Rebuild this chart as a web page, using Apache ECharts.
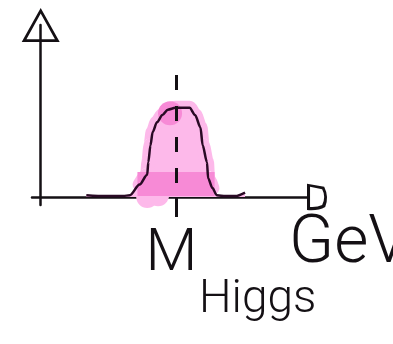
<!DOCTYPE html>
<html>
<head>
<meta charset="utf-8">
<script src="https://cdn.jsdelivr.net/npm/echarts@6/dist/echarts.min.js"></script>
<style>
  html, body { margin: 0; padding: 0; background: #fff; }
  #chart { width: 393px; height: 344px; }
</style>
</head>
<body>
<div id="chart"></div>
<script>
// mass axis (arbitrary GeV units) and normalised event counts
const massGeV = [42, 60, 76, 82, 91, 98, 99, 101, 103, 107, 112, 117, 124, 131, 137, 142, 147, 149, 153, 154, 158, 162, 170, 179, 188]
const counts  = [0.02, 0.01, 0.01, 0.02, 0.14, 0.25, 0.39, 0.58, 0.73, 0.84, 0.92, 0.98, 1.0, 1.0, 1.0, 0.92, 0.78, 0.58, 0.39, 0.21, 0.10, 0.02, 0.01, 0.01, 0.05]
const higgsMass = 125
const peakTop = 1.37          // top of the dashed mass marker
const bandX = [89, 160]       // darker highlighter band under the peak
const bandY = [0.01, 0.28]
const darkBlobs  = [[119, 0.94]]
const lightBlobs = [[98, 0.0], [108, 0.02]]

const curve = massGeV.map((x, i) => [x, counts[i]])
const halo = curve.filter(p => p[0] >= 90 && p[0] <= 160)

const ink = '#141014'
const pinkLight = '#fdb9ea'
const pinkDark = '#f78ad6'
const font = 'Roboto, "DejaVu Sans", sans-serif'

// hollow arrow heads, inner ring wound the other way so it is cut out
const triArrow = 'path://M0,0 L20,36 L-20,36 Z M0,6 L-15,33 L15,33 Z'
const dArrow = 'path://M-13,20 L-10,3 Q0,-2 10,2 Q14,9 13,20 Z M-10,17 L10,17 Q10.5,10 8,5 Q0,1 -7.5,5 Z'

const chart = echarts.init(document.getElementById('chart'), null, { renderer: 'canvas' })

chart.setOption({
  animation: false,
  backgroundColor: '#fff',
  title: {
    text: 'Higgs',
    left: 194,
    top: 272,
    textStyle: { fontFamily: font, fontWeight: 300, fontSize: 46, color: ink },
  },
  grid: { left: 32, right: 86, top: 25, bottom: 139, outerBoundsMode: 'none', containLabel: false },
  xAxis: {
    type: 'value',
    min: -8,
    max: 245,
    name: 'GeV',
    nameLocation: 'end',
    nameGap: -18,
    nameTextStyle: {
      fontFamily: font, fontWeight: 300, fontSize: 66, color: ink,
      verticalAlign: 'top', align: 'left', padding: [16, 0, 0, 0],
    },
    axisLine: {
      onZero: true,
      lineStyle: { color: ink, width: 2.5 },
      symbol: ['none', dArrow],
      symbolSize: [30, 20],
      symbolOffset: [0, 10],
    },
    axisTick: { show: true, customValues: [higgsMass], length: 20, lineStyle: { color: ink, width: 3 } },
    axisLabel: {
      show: true,
      customValues: [higgsMass],
      formatter: () => 'M',
      margin: 20,
      padding: [0, 10, 0, 0],
      fontFamily: font, fontWeight: 300, fontSize: 60, color: ink,
    },
    splitLine: { show: false },
  },
  yAxis: {
    type: 'value',
    min: -0.09,
    max: 1.93,
    axisLine: {
      onZero: true,
      lineStyle: { color: ink, width: 2.5 },
      symbol: ['none', triArrow],
      symbolSize: [38, 35],
    },
    axisTick: { show: false },
    axisLabel: { show: false },
    splitLine: { show: false },
  },
  series: [
    {
      // highlighter fill under the curve
      type: 'line',
      data: curve,
      smooth: 0.3,
      smoothMonotone: 'x',
      symbol: 'none',
      lineStyle: { width: 0 },
      areaStyle: { color: pinkLight, opacity: 1 },
      silent: true,
      z: 1,
    },
    {
      type: 'line',
      data: halo,
      smooth: 0.3,
      smoothMonotone: 'x',
      symbol: 'none',
      lineStyle: { color: pinkLight, width: 14, cap: 'round', join: 'round' },
      silent: true,
      z: 1,
    },
    {
      type: 'scatter',
      data: lightBlobs,
      symbolSize: 22,
      itemStyle: { color: pinkLight, opacity: 1 },
      silent: true,
      z: 1,
    },
    {
      // darker band + blob near the top
      type: 'scatter',
      data: darkBlobs,
      symbolSize: 24,
      itemStyle: { color: pinkDark, opacity: 1 },
      silent: true,
      z: 2,
      markArea: {
        silent: true,
        z: 2,
        itemStyle: { color: pinkDark, opacity: 1 },
        data: [[{ coord: [bandX[0], bandY[1]] }, { coord: [bandX[1], bandY[0]] }]],
      },
    },
    {
      type: 'line',
      data: curve,
      smooth: 0.3,
      smoothMonotone: 'x',
      symbol: 'none',
      lineStyle: { color: '#2a0a25', width: 2.5 },
      z: 3,
      markLine: {
        silent: true,
        symbol: ['none', 'none'],
        label: { show: false },
        lineStyle: { color: ink, width: 3, type: [15, 16] },
        data: [[{ coord: [higgsMass, peakTop] }, { coord: [higgsMass, 0] }]],
      },
    },
  ],
})
</script>
</body>
</html>
